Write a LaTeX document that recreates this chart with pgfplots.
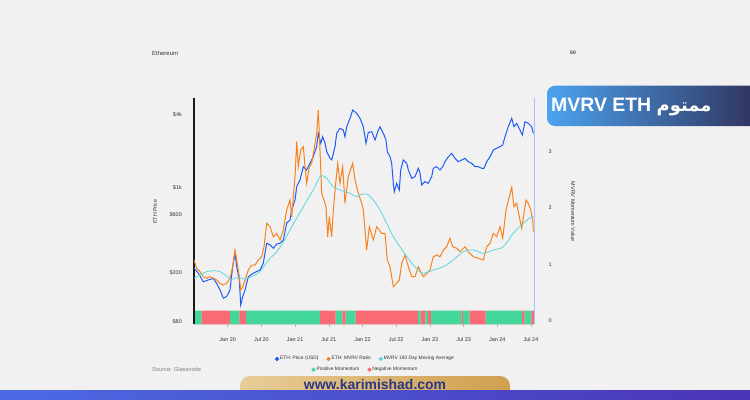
\documentclass[border=0pt]{standalone}
\usepackage{pgfplots}
\pgfplotsset{compat=1.18}
\usepackage{fontspec}
\setmainfont{Liberation Sans}
\newfontfamily\arabicfont[Script=Arabic]{DejaVu Sans}
\TeXXeTstate=1
\definecolor{bg}{HTML}{F1F1F1}
\definecolor{ethblue}{HTML}{1E5AF5}
\definecolor{mvrvor}{HTML}{F7821E}
\definecolor{macyan}{HTML}{5CD6DE}
\definecolor{posg}{HTML}{43D79B}
\definecolor{negr}{HTML}{F86B74}
\definecolor{raxis}{HTML}{A9C1F6}
\definecolor{txt}{HTML}{333333}
\definecolor{bnA}{HTML}{4CA3EE}
\definecolor{bnB}{HTML}{5537DC}
\definecolor{bnC}{HTML}{2F2C55}
\definecolor{goldA}{HTML}{E8CC98}
\definecolor{goldB}{HTML}{CFA04E}
\definecolor{navy}{HTML}{2A3584}
\definecolor{bandA}{HTML}{4C6AE4}
\definecolor{bandB}{HTML}{5636DC}
\definecolor{bandC}{HTML}{4B34B6}
\pgfplotsset{
  chartbase/.style={scale only axis, width=340.4bp, height=226.3bp,
    at={(194bp,-324.3bp)}, anchor=south west,
    xmin=2019.5, xmax=2024.5504,
    /pgf/number format/assume math mode=true},
  dotlegend/.style={
    legend image code/.code={\fill[##1] (0bp,0bp) circle (1.9bp);},
    legend cell align=left,
    legend style={draw=none, fill=none, font=\fontsize{4.9}{5.5}\selectfont,
      text=txt, anchor=center, inner sep=0pt, nodes={inner sep=0.9bp},
      /tikz/every even column/.append style={column sep=7bp}}},
}
\begin{document}
\begin{tikzpicture}
\useasboundingbox (0,0) rectangle (750bp,-400bp);
\clip (0,0) rectangle (750bp,-400bp);
\fill[bg] (0,0) rectangle (750bp,-400bp);

% momentum strip + x ticks
\begin{axis}[chartbase, ymin=0, ymax=16.64,
  axis x line*=bottom, axis y line=none,
  x axis line style={draw=none},
  xtick={2020,2020.5,2021,2021.5,2022,2022.5,2023,2023.5,2024,2024.5},
  xticklabels={Jan 20,Jul 20,Jan 21,Jul 21,Jan 22,Jul 22,Jan 23,Jul 23,Jan 24,Jul 24},
  tick style={draw=gray!55, line width=0.5bp},
  major tick length=3bp, tick align=outside,
  xticklabel style={font=\fontsize{5.5}{6}\selectfont, text=txt, inner sep=0pt, anchor=north, yshift=-10.5bp},
  dotlegend, legend columns=2, legend style={at={(0.502,-0.2006)}}]
\addplot[const plot mark left, fill=posg, draw=none, forget plot] coordinates {
(2019.500,1) (2019.614,0) (2020.034,1) (2020.172,0) (2020.272,1) (2021.369,0) (2021.602,1) (2021.700,0) (2021.751,1) (2021.899,0) (2022.823,1) (2022.864,0) (2022.932,1) (2022.972,0) (2023.016,1) (2023.466,0) (2023.491,1) (2023.591,0) (2023.828,1) (2024.367,0) (2024.401,1) (2024.505,0) (2024.5504,0)} \closedcycle;
\addplot[const plot mark left, fill=negr, draw=none, forget plot] coordinates {
(2019.500,0) (2019.614,1) (2020.034,0) (2020.172,1) (2020.272,0) (2021.369,1) (2021.602,0) (2021.700,1) (2021.751,0) (2021.899,1) (2022.823,0) (2022.864,1) (2022.932,0) (2022.972,1) (2023.016,0) (2023.466,1) (2023.491,0) (2023.591,1) (2023.828,0) (2024.367,1) (2024.401,0) (2024.505,1) (2024.5504,1)} \closedcycle;
\addlegendimage{posg}\addlegendentry{Positive Momentum}
\addlegendimage{negr}\addlegendentry{Negative Momentum}
\end{axis}

% price axis (left)
\begin{axis}[chartbase, ymode=log, ymin=75.7, ymax=5444,
  axis y line*=left, axis x line=none,
  y axis line style={draw=black!90, line width=1.4bp, -},
  ytick={80,200,600,1000,4000}, yticklabels={\$80,\$200,\$600,\$1k,\$4k},
  major tick length=0pt,
  yticklabel style={font=\fontsize{5.5}{6}\selectfont, text=txt, inner sep=0pt, anchor=east, xshift=-12bp}]
\addplot[ethblue, line width=1bp, forget plot] coordinates {
(2019.500,219) (2019.564,199) (2019.638,169) (2019.712,175) (2019.786,180) (2019.837,164) (2019.886,145) (2019.935,124) (2019.985,128) (2020.034,145) (2020.074,225) (2020.108,290) (2020.134,225) (2020.172,175) (2020.193,109) (2020.223,128) (2020.257,145) (2020.306,186) (2020.380,199) (2020.430,205) (2020.479,211) (2020.528,240) (2020.553,290) (2020.579,350) (2020.628,339) (2020.677,318) (2020.727,345) (2020.776,350) (2020.825,372) (2020.875,511) (2020.924,543) (2020.950,657) (2020.999,793) (2021.024,1019) (2021.073,1157) (2021.122,1487) (2021.172,1397) (2021.221,1586) (2021.270,1796) (2021.320,2170) (2021.344,2794) (2021.380,2313) (2021.409,2620) (2021.444,2313) (2021.469,1974) (2021.518,1742) (2021.543,1688) (2021.592,2170) (2021.617,2794) (2021.666,3071) (2021.715,2974) (2021.740,2620) (2021.766,3165) (2021.815,3709) (2021.855,4339) (2021.914,4077) (2021.963,3709) (2022.012,3165) (2022.052,2313) (2022.086,2837) (2022.137,2880) (2022.186,2462) (2022.235,2974) (2022.260,3165) (2022.309,2794) (2022.349,2462) (2022.368,1974) (2022.408,1796) (2022.433,1586) (2022.457,1087) (2022.472,927) (2022.507,1087) (2022.546,957) (2022.567,1397) (2022.605,1688) (2022.656,1586) (2022.680,1397) (2022.730,1194) (2022.779,1231) (2022.828,1443) (2022.853,1313) (2022.878,1052) (2022.927,1120) (2022.976,1087) (2023.027,1231) (2023.050,1443) (2023.101,1487) (2023.150,1397) (2023.190,1487) (2023.224,1635) (2023.273,1796) (2023.323,1915) (2023.372,1742) (2023.421,1635) (2023.472,1688) (2023.521,1742) (2023.570,1635) (2023.620,1586) (2023.669,1487) (2023.718,1487) (2023.769,1443) (2023.803,1443) (2023.843,1635) (2023.892,1796) (2023.941,2039) (2023.991,2105) (2024.040,2170) (2024.080,2240) (2024.114,2620) (2024.163,3165) (2024.214,3709) (2024.248,3165) (2024.288,3375) (2024.337,2974) (2024.371,2706) (2024.411,3478) (2024.460,3375) (2024.510,3165) (2024.534,2794)};
\end{axis}

% MVRV axis (right)
\begin{axis}[chartbase, ymin=-0.058, ymax=3.947,
  axis y line*=right, axis x line=none,
  y axis line style={draw=raxis, line width=1.1bp, -},
  ytick={0,1,2,3}, yticklabels={0,1,2,3},
  major tick length=0pt,
  yticklabel style={font=\fontsize{5.5}{6}\selectfont, text=txt, inner sep=0pt, anchor=west, xshift=14bp},
  dotlegend, legend columns=3, legend style={at={(0.502,-0.153)}}]
\addplot[mvrvor, line width=1bp, forget plot] coordinates {
(2019.500,1.080) (2019.540,0.933) (2019.589,0.873) (2019.638,0.784) (2019.688,0.756) (2019.737,0.784) (2019.786,0.756) (2019.837,0.726) (2019.886,0.667) (2019.935,0.637) (2019.985,0.667) (2020.034,0.756) (2020.074,0.961) (2020.108,1.257) (2020.134,1.080) (2020.172,0.784) (2020.193,0.549) (2020.223,0.607) (2020.257,0.726) (2020.306,0.903) (2020.356,0.991) (2020.405,0.991) (2020.454,1.080) (2020.504,1.138) (2020.539,1.315) (2020.579,1.729) (2020.628,1.669) (2020.677,1.492) (2020.727,1.552) (2020.776,1.434) (2020.825,1.611) (2020.875,1.965) (2020.924,2.142) (2020.950,1.846) (2020.999,2.554) (2021.024,3.173) (2021.047,2.731) (2021.083,3.027) (2021.122,3.085) (2021.147,2.731) (2021.172,2.437) (2021.211,2.731) (2021.246,2.791) (2021.280,3.027) (2021.320,3.322) (2021.344,3.735) (2021.369,3.027) (2021.395,2.260) (2021.429,2.142) (2021.458,2.023) (2021.484,1.492) (2021.507,1.846) (2021.543,1.492) (2021.567,1.965) (2021.607,2.496) (2021.632,2.791) (2021.666,2.437) (2021.706,2.731) (2021.740,2.083) (2021.789,2.554) (2021.855,2.791) (2021.889,2.496) (2021.938,2.260) (2021.988,2.083) (2022.012,1.965) (2022.037,1.611) (2022.062,1.257) (2022.101,1.669) (2022.160,1.434) (2022.211,1.669) (2022.285,1.552) (2022.334,1.552) (2022.368,1.080) (2022.408,0.961) (2022.457,0.607) (2022.507,0.667) (2022.546,0.726) (2022.582,1.021) (2022.631,1.168) (2022.680,0.961) (2022.730,0.784) (2022.779,0.784) (2022.828,0.961) (2022.864,0.873) (2022.902,0.784) (2022.953,0.844) (2023.001,0.903) (2023.050,1.138) (2023.101,1.168) (2023.150,1.138) (2023.199,1.257) (2023.249,1.315) (2023.298,1.464) (2023.338,1.315) (2023.398,1.287) (2023.447,1.227) (2023.521,1.315) (2023.570,1.227) (2023.644,1.138) (2023.718,1.110) (2023.792,1.080) (2023.843,1.315) (2023.892,1.375) (2023.941,1.552) (2023.991,1.492) (2024.040,1.669) (2024.080,1.464) (2024.129,1.965) (2024.178,2.200) (2024.214,2.366) (2024.248,2.023) (2024.288,2.083) (2024.326,1.846) (2024.362,1.641) (2024.396,1.906) (2024.426,2.142) (2024.460,2.083) (2024.496,1.965) (2024.525,1.788) (2024.534,1.581)};
\addplot[macyan, line width=0.8bp, smooth, tension=0.5, forget plot] coordinates {
(2019.500,0.756) (2019.589,0.814) (2019.688,0.873) (2019.786,0.890) (2019.886,0.873) (2019.985,0.796) (2020.059,0.738) (2020.157,0.773) (2020.257,0.743) (2020.331,0.773) (2020.405,0.814) (2020.479,0.873) (2020.553,0.991) (2020.628,1.110) (2020.727,1.221) (2020.825,1.398) (2020.924,1.611) (2021.024,1.823) (2021.122,2.023) (2021.196,2.177) (2021.270,2.319) (2021.369,2.554) (2021.418,2.566) (2021.469,2.526) (2021.567,2.377) (2021.666,2.319) (2021.815,2.260) (2021.914,2.200) (2021.963,2.230) (2022.062,2.248) (2022.160,2.142) (2022.260,1.965) (2022.359,1.729) (2022.457,1.492) (2022.556,1.315) (2022.656,1.138) (2022.754,0.991) (2022.853,0.873) (2022.902,0.844) (2023.050,0.903) (2023.199,0.961) (2023.347,1.080) (2023.496,1.227) (2023.644,1.257) (2023.792,1.198) (2023.941,1.257) (2024.089,1.315) (2024.237,1.552) (2024.386,1.729) (2024.510,1.846) (2024.534,1.846)};
\addlegendimage{ethblue}\addlegendentry{ETH: Price (USD)}
\addlegendimage{mvrvor}\addlegendentry{ETH: MVRV Ratio}
\addlegendimage{macyan}\addlegendentry{MVRV 180 Day Moving Average}
\end{axis}

% texts
\node[anchor=west, inner sep=0pt, text=txt, font=\fontsize{6}{7}\selectfont] at (152bp,-53bp) {Ethereum};
\node[inner sep=0pt, text=txt, font=\fontsize{5}{6}\selectfont\bfseries] at (573bp,-53bp) {50};
\node[rotate=90, inner sep=0pt, text=txt, font=\fontsize{5.3}{6}\selectfont] at (155bp,-211.7bp) {ETH Price};
\node[rotate=-90, inner sep=0pt, text=txt, font=\fontsize{5.5}{6}\selectfont] at (573bp,-211.7bp) {MVRV Momentum Value};
\node[anchor=west, inner sep=0pt, text=gray, font=\fontsize{5.7}{6.5}\selectfont] at (152bp,-369bp) {Source: Glassnode};

% title banner
\shade[rounded corners=8bp, left color=bnA, middle color=bnB, right color=bnC] (547bp,-85.7bp) rectangle (770bp,-126bp);
\node[anchor=base west, inner sep=0pt, text=white, font=\fontsize{19.5}{22}\selectfont\bfseries] at (551bp,-111.7bp) {MVRV ETH {\arabicfont\fontsize{18}{20}\selectfont\bfseries\beginR ممتوم\endR}};

% bottom banners
\shade[rounded corners=10bp, left color=goldA, right color=goldB] (240bp,-376bp) rectangle (510bp,-405bp);
\shade[left color=bandA, middle color=bandB, right color=bandC] (0bp,-390.7bp) rectangle (750bp,-400bp);
\node[anchor=base, inner sep=0pt, text=navy, font=\fontsize{14}{16}\selectfont\bfseries] at (375bp,-389bp) {www.karimishad.com};
\end{tikzpicture}
\end{document}
